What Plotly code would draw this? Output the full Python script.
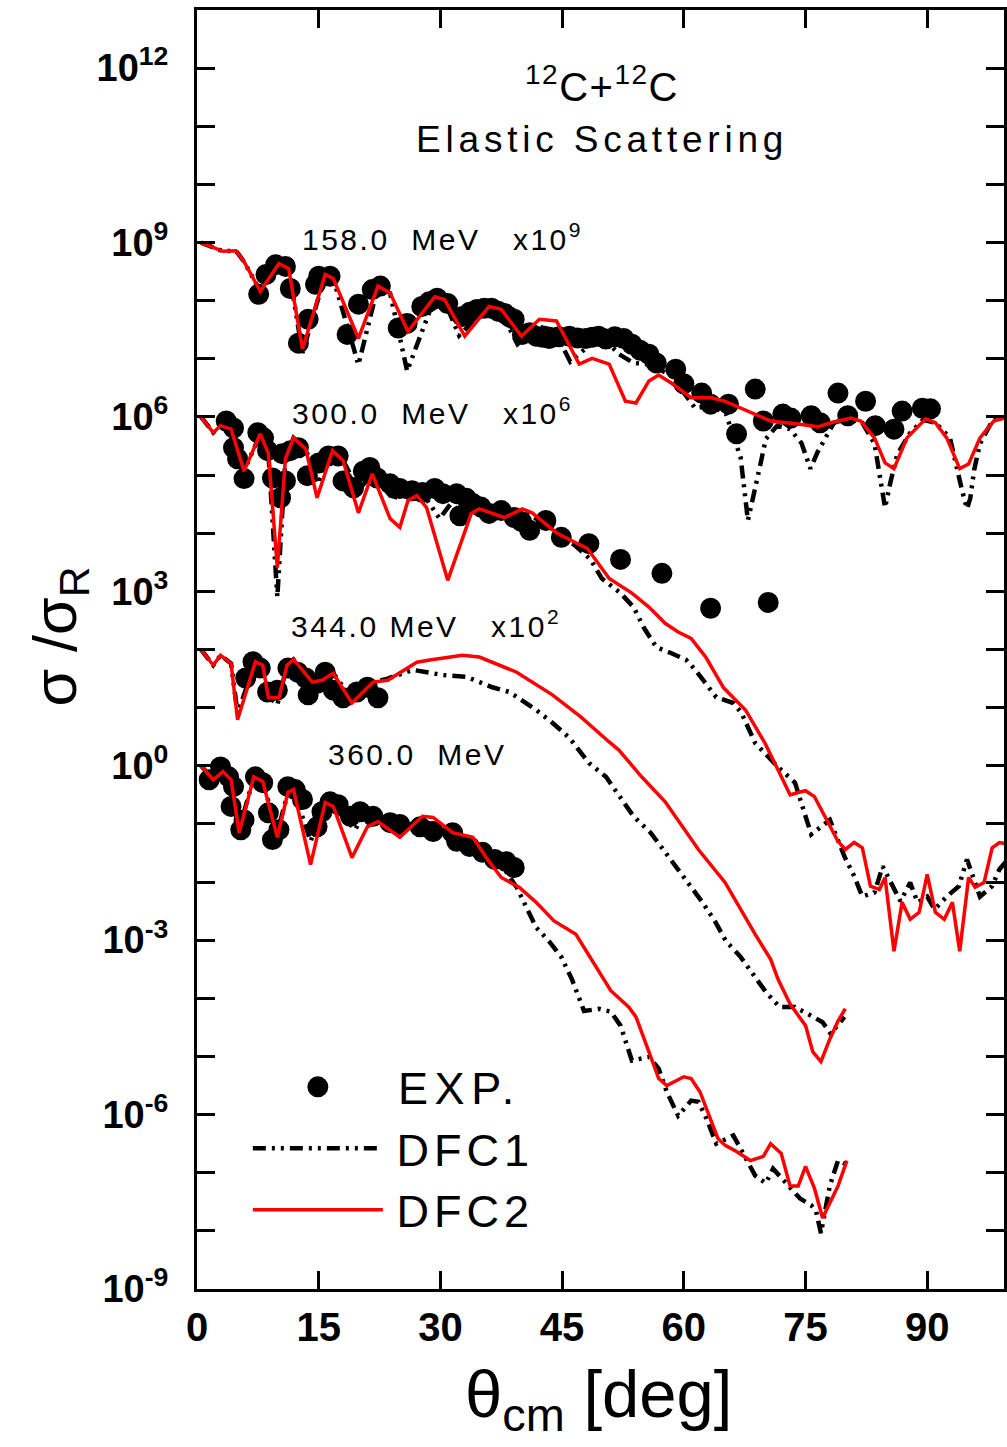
import numpy as np
import plotly.graph_objects as go

# ---------------- data (sigma/sigma_R, unscaled) ----------------
scale_158, scale_300, scale_344, scale_360 = 1e9, 1e6, 1e2, 1.0

theta_exp_158 = [7.6, 8.5, 9.7, 10.9, 11.5, 12.5, 13.7, 14.6, 15.0, 16.4, 18.5, 19.9, 21.6, 22.6, 24.8, 25.9,
                 27.7, 28.6, 29.6, 30.9, 32.7, 33.6, 34.5, 35.4, 36.3, 37.1, 37.9, 38.5, 39.1, 40.1, 41.0, 41.8,
                 42.6, 43.4, 44.6, 45.9, 46.9, 47.9, 48.7, 49.5, 50.4, 51.5, 52.6, 53.6, 54.6, 55.7, 56.6, 59.0,
                 60.0, 62.2, 63.3, 65.5, 66.5, 68.8, 69.8, 72.2, 73.2, 75.7, 76.8, 79.0, 80.2, 82.4, 83.6, 85.9,
                 86.9, 89.4, 90.4]
sig_exp_158 = [0.129, 0.282, 0.417, 0.389, 0.162, 0.0186, 0.0479, 0.191, 0.263, 0.263, 0.0263, 0.0871, 0.155,
               0.178, 0.0339, 0.0407, 0.0794, 0.0955, 0.110, 0.0891, 0.0537, 0.0631, 0.0708, 0.0741, 0.0741,
               0.0661, 0.0603, 0.0525, 0.0479, 0.0263, 0.0282, 0.0245, 0.0234, 0.0224, 0.0240, 0.0245, 0.0229,
               0.0224, 0.0234, 0.0245, 0.0219, 0.0240, 0.0224, 0.0178, 0.0141, 0.0120, 0.00851, 0.00661,
               0.00372, 0.00257, 0.00166, 0.00166, 0.000513, 0.00302, 0.000851, 0.00112, 0.000955, 0.00105,
               0.000794, 0.00257, 0.00105, 0.00186, 0.000708, 0.000617, 0.00126, 0.00141, 0.00138]

theta_dfc2_158 = [0.5, 3.2, 4.8, 5.8, 7.8, 10.1, 11.3, 13.0, 15.8, 16.8, 19.9, 22.3, 23.8, 26.0, 29.3, 30.5,
                  33.0, 36.0, 37.5, 40.0, 42.2, 44.3, 47.1, 48.7, 50.8, 52.8, 54.1, 55.7, 56.9, 58.5, 60.9,
                  63.4, 65.1, 68.8, 70.7, 74.1, 76.5, 78.1, 80.6, 81.8, 83.5, 84.8, 85.9, 87.5, 89.8, 91.0,
                  92.4, 94.0, 95.1, 96.5, 98.2, 100.0]
sig_dfc2_158 = [1.0, 0.708, 0.724, 0.468, 0.145, 0.437, 0.355, 0.0148, 0.282, 0.240, 0.0224, 0.178, 0.135,
                0.0295, 0.117, 0.105, 0.0245, 0.0794, 0.0708, 0.0245, 0.0479, 0.0447, 0.00813, 0.0102,
                0.00813, 0.00186, 0.00174, 0.00417, 0.00525, 0.00380, 0.00214, 0.00214, 0.00186, 0.00112,
                0.000851, 0.000759, 0.000676, 0.000794, 0.000955, 0.000851, 0.000437, 0.000162, 0.000129,
                0.000437, 0.000933, 0.000794, 0.000437, 0.000129, 0.000155, 0.000437, 0.000851, 0.001]

theta_dfc1_158 = [0.5, 3.2, 4.8, 5.8, 7.8, 10.1, 11.3, 13.0, 15.8, 16.8, 19.9, 22.3, 23.8, 25.9, 29.3, 30.5,
                  32.3, 35.5, 37.5, 39.5, 42.0, 44.0, 46.0, 48.5, 50.5, 52.0, 53.8, 56.0, 58.5, 61.4, 63.5,
                  65.2, 67.0, 67.9, 69.4, 70.1, 71.5, 73.1, 74.5, 75.6, 76.5, 77.4, 78.5, 80.5, 82.0, 83.5,
                  84.2, 84.8, 85.5, 86.3, 87.8, 89.5, 91.0, 92.8, 94.3, 94.9, 95.3, 95.8, 96.5, 98.2, 100.0]
sig_dfc1_158 = [1.0, 0.708, 0.724, 0.468, 0.145, 0.437, 0.355, 0.0126, 0.282, 0.240, 0.00794, 0.178, 0.135,
                0.00617, 0.112, 0.100, 0.0251, 0.0708, 0.0631, 0.0178, 0.0355, 0.0316, 0.00891, 0.0178,
                0.0200, 0.0120, 0.00851, 0.00794, 0.00501, 0.00141, 0.00158, 0.00112, 0.000200, 1.66e-5,
                1.45e-4, 4.17e-4, 7.08e-4, 6.17e-4, 3.55e-4, 1.29e-4, 2.51e-4, 4.37e-4, 7.94e-4, 9.55e-4,
                7.94e-4, 3.47e-4, 7.94e-5, 2.75e-5, 7.94e-5, 2.24e-4, 5.13e-4, 8.91e-4, 7.94e-4, 4.37e-4,
                5.37e-5, 2.63e-5, 3.98e-5, 1.26e-4, 3.47e-4, 9.55e-4, 1.0e-3]

theta_exp_300 = [3.6, 4.5, 4.5, 5.0, 5.8, 7.5, 8.2, 8.7, 9.3, 10.3, 10.5, 10.9, 11.5, 12.5, 13.6, 15.0, 16.2,
                 17.4, 18.0, 19.3, 20.5, 21.3, 22.2, 23.8, 25.0, 26.5, 27.8, 29.3, 30.3, 32.0, 32.4, 33.2,
                 34.0, 35.0, 36.0, 37.5, 39.1, 40.0, 41.0, 43.0, 44.9, 48.3, 52.2, 57.3, 63.3, 70.4]
sig_exp_300 = [0.851, 0.646, 0.295, 0.191, 0.0871, 0.537, 0.437, 0.263, 0.0891, 0.0407, 0.234, 0.0794,
               0.263, 0.295, 0.0977, 0.162, 0.214, 0.214, 0.0794, 0.0603, 0.117, 0.135, 0.0891, 0.0708,
               0.0589, 0.0537, 0.0501, 0.0589, 0.0479, 0.0479, 0.0200, 0.0398, 0.0324, 0.0282, 0.0219,
               0.0245, 0.0186, 0.0158, 0.0112, 0.0166, 0.00851, 0.00661, 0.00355, 0.00204, 0.000513, 0.000646]

theta_dfc2_300 = [0.5, 2.0, 2.9, 4.2, 5.8, 7.8, 8.8, 9.9, 10.9, 11.9, 13.4, 14.8, 16.7, 18.0, 19.9, 21.6,
                  23.8, 25.0, 26.0, 27.1, 28.3, 30.9, 33.8, 34.8, 37.9, 40.1, 41.3, 44.3, 46.2, 48.1, 50.8,
                  53.6, 55.7, 57.7, 59.3, 60.9, 62.7, 64.9, 67.6, 70.0, 71.6, 73.1, 74.1, 75.0, 76.1, 77.4,
                  79.0, 79.9, 81.0, 82.0, 83.0, 84.1, 84.8, 85.9, 86.9, 87.9, 89.0, 90.0, 91.0, 92.1, 93.1,
                  94.0, 95.1, 95.9, 97.0, 98.0, 98.9, 100.0]
sig_dfc2_300 = [1.0, 0.537, 0.708, 0.617, 0.117, 0.513, 0.234, 0.00257, 0.191, 0.437, 0.282, 0.0407, 0.263,
                0.178, 0.0224, 0.105, 0.0178, 0.0126, 0.0363, 0.0447, 0.0275, 0.00155, 0.0219, 0.0263,
                0.0186, 0.0263, 0.0224, 0.0102, 0.00741, 0.00550, 0.00166, 0.000933, 0.000537, 0.000282,
                0.000200, 0.000155, 7.41e-5, 2.19e-5, 9.12e-6, 2.45e-6, 8.51e-7, 3.16e-7, 3.47e-7, 3.72e-7,
                2.95e-7, 1.35e-7, 5.01e-8, 3.63e-8, 4.79e-8, 3.89e-8, 8.51e-9, 7.41e-9, 1.20e-8, 6.46e-10,
                4.47e-9, 2.29e-9, 3.02e-9, 1.35e-8, 3.02e-9, 2.29e-9, 4.47e-9, 6.46e-10, 1.20e-8, 8.13e-9,
                9.77e-9, 3.89e-8, 4.79e-8, 4.47e-8]

theta_dfc1_300 = [0.5, 2.0, 2.9, 4.2, 5.8, 7.8, 8.8, 9.9, 10.9, 11.9, 13.4, 14.8, 16.7, 18.0, 19.9, 21.6,
                  23.8, 25.0, 26.5, 28.0, 29.9, 31.5, 34.0, 36.5, 38.5, 40.5, 42.5, 44.5, 46.5, 48.5, 49.9,
                  52.2, 53.8, 55.1, 56.6, 58.4, 60.3, 61.4, 62.7, 64.0, 66.1, 67.1, 68.8, 71.6, 73.7, 74.9,
                  75.7, 76.8, 78.0, 79.8, 81.0, 82.0, 83.5, 84.5, 85.9, 86.7, 87.9, 88.8, 90.0, 90.9, 92.4,
                  93.9, 94.9, 95.8, 96.5, 98.0, 98.9, 100.0]
sig_dfc1_300 = [1.0, 0.537, 0.708, 0.617, 0.117, 0.513, 0.234, 7.94e-4, 0.191, 0.437, 0.282, 0.0708, 0.251,
                0.178, 0.0562, 0.100, 0.0447, 0.0398, 0.0501, 0.0447, 0.0178, 0.0355, 0.0316, 0.0224,
                0.0224, 0.0224, 0.0158, 0.0100, 0.00631, 0.00355, 0.00166, 0.000933, 0.000537, 0.000234,
                0.000110, 8.71e-5, 6.61e-5, 4.47e-5, 2.63e-5, 1.51e-5, 1.20e-5, 8.13e-6, 2.45e-6, 9.55e-7,
                5.13e-7, 1.55e-7, 6.61e-8, 8.71e-8, 1.17e-7, 2.75e-8, 1.26e-8, 5.62e-9, 6.61e-9, 1.86e-8,
                7.41e-9, 4.68e-9, 9.77e-9, 4.47e-9, 5.62e-9, 3.39e-9, 5.62e-9, 8.51e-9, 2.45e-8, 1.12e-8,
                5.62e-9, 8.51e-9, 1.66e-8, 2.51e-8]

theta_exp_344 = [6.0, 6.9, 7.8, 8.7, 9.9, 11.2, 12.4, 13.4, 13.7, 14.8, 15.8, 16.8, 18.0, 19.7, 21.0, 22.3]
sig_exp_344 = [0.324, 0.617, 0.479, 0.186, 0.200, 0.479, 0.407, 0.324, 0.166, 0.263, 0.407, 0.200, 0.148,
               0.186, 0.224, 0.148]

theta_dfc2_344 = [0.5, 2.0, 2.9, 4.2, 5.0, 7.2, 8.1, 8.8, 10.1, 11.1, 11.9, 14.2, 15.4, 16.8, 19.1, 21.7,
                  23.5, 27.1, 28.7, 32.7, 34.8, 39.4, 43.8, 47.3, 50.8, 52.0, 54.8, 57.7, 61.8, 65.1, 68.8,
                  70.7, 71.6, 73.1, 75.0, 75.9, 76.9, 78.0, 79.0, 79.9]
sig_dfc2_344 = [1.0, 0.537, 0.794, 0.575, 0.0617, 0.617, 0.537, 0.148, 0.148, 0.537, 0.676, 0.275, 0.295,
                0.389, 0.120, 0.275, 0.295, 0.603, 0.661, 0.794, 0.741, 0.407, 0.166, 0.0692, 0.0257,
                0.0186, 0.00646, 0.00240, 0.000363, 9.77e-5, 1.26e-5, 4.68e-6, 2.14e-6, 7.94e-7, 3.39e-7,
                1.20e-7, 8.13e-8, 2.00e-7, 4.07e-7, 6.61e-7]

theta_dfc1_344 = [0.5, 2.0, 2.9, 4.2, 5.0, 7.2, 8.1, 8.8, 9.9, 11.1, 11.9, 14.2, 15.4, 16.8, 19.1, 21.7,
                  23.5, 26.6, 30.3, 33.2, 36.4, 38.5, 41.8, 43.8, 45.9, 48.3, 50.4, 51.7, 53.8, 55.9, 57.3,
                  59.0, 60.8, 62.2, 63.9, 65.2, 66.9, 68.3, 70.1, 71.8, 73.7, 75.3, 77.1, 78.1, 79.8]
sig_dfc1_344 = [1.0, 0.537, 0.794, 0.575, 0.0794, 0.617, 0.537, 0.158, 0.112, 0.537, 0.676, 0.282, 0.316,
                0.389, 0.141, 0.275, 0.316, 0.447, 0.363, 0.339, 0.224, 0.186, 0.0912, 0.0550, 0.0302,
                0.0112, 0.00646, 0.00347, 0.00135, 0.000708, 0.000389, 0.000186, 8.13e-5, 4.68e-5, 2.04e-5,
                9.55e-6, 5.37e-6, 2.82e-6, 1.29e-6, 7.08e-7, 7.08e-7, 5.37e-7, 3.89e-7, 2.45e-7, 4.79e-7]

theta_exp_360 = [1.5, 2.9, 3.9, 4.2, 4.5, 5.4, 5.8, 7.2, 8.1, 8.8, 9.3, 10.1, 11.2, 12.1, 13.0, 14.8, 15.4,
                 16.4, 17.4, 18.9, 20.1, 21.7, 23.8, 25.0, 27.5, 29.1, 31.5, 32.0, 33.6, 35.2, 36.7, 38.1, 39.1]
sig_exp_360 = [0.575, 0.955, 0.646, 0.200, 0.437, 0.0794, 0.117, 0.646, 0.513, 0.155, 0.0537, 0.0794, 0.437,
               0.389, 0.263, 0.0891, 0.162, 0.240, 0.214, 0.135, 0.162, 0.135, 0.105, 0.0977, 0.0891,
               0.0741, 0.0708, 0.0501, 0.0407, 0.0324, 0.0245, 0.0224, 0.0178]

theta_dfc2_360 = [0.5, 2.0, 3.2, 4.2, 5.2, 7.0, 8.1, 9.9, 11.2, 11.9, 14.0, 15.8, 16.8, 19.1, 21.0, 22.3,
                  25.0, 27.8, 29.1, 31.5, 34.0, 35.8, 37.5, 39.7, 41.8, 44.0, 46.7, 49.3, 51.0, 53.2, 54.1,
                  55.7, 56.9, 57.9, 59.0, 60.0, 60.9, 62.0, 63.4, 64.2, 65.1, 66.3, 68.2, 69.8, 70.7, 72.0,
                  73.1, 74.1, 75.0, 76.1, 77.1, 79.0, 80.1]
sig_dfc2_360 = [1.0, 0.575, 0.794, 0.575, 0.0708, 0.646, 0.537, 0.0589, 0.347, 0.389, 0.0200, 0.234, 0.200,
                0.0263, 0.0891, 0.110, 0.0589, 0.135, 0.129, 0.0708, 0.0589, 0.0245, 0.0120, 0.00813,
                0.00447, 0.00214, 0.00126, 0.000316, 0.000135, 7.08e-5, 4.79e-5, 1.20e-5, 4.17e-6, 3.16e-6,
                3.72e-6, 4.47e-6, 4.17e-6, 2.45e-6, 7.59e-7, 3.89e-7, 2.95e-7, 2.40e-7, 1.62e-7, 1.91e-7,
                3.16e-7, 2.14e-7, 5.89e-8, 5.89e-8, 1.29e-7, 5.37e-8, 1.66e-8, 5.89e-8, 1.62e-7]

theta_dfc1_360 = [0.5, 2.0, 3.2, 4.2, 5.2, 7.0, 8.1, 9.9, 11.2, 11.9, 14.0, 15.8, 16.8, 19.5, 21.0, 22.3,
                  25.0, 27.8, 30.0, 32.5, 35.0, 37.5, 39.4, 40.1, 41.8, 43.4, 44.9, 46.2, 47.7, 49.5, 51.0,
                  52.2, 53.6, 55.7, 56.9, 57.9, 59.3, 60.9, 61.8, 62.8, 64.0, 66.1, 67.1, 68.8, 70.1, 71.0,
                  73.2, 74.3, 75.7, 76.3, 76.9, 78.0, 79.0, 79.8]
sig_dfc1_360 = [1.0, 0.575, 0.794, 0.575, 0.0794, 0.646, 0.537, 0.0708, 0.347, 0.389, 0.0501, 0.234, 0.200,
                0.0794, 0.200, 0.141, 0.0891, 0.112, 0.0891, 0.0631, 0.0355, 0.0200, 0.00813, 0.00501,
                0.00166, 0.000955, 0.000513, 0.000214, 6.03e-5, 6.61e-5, 5.89e-5, 3.39e-5, 8.51e-6, 9.77e-6,
                6.17e-6, 2.45e-6, 9.55e-7, 1.74e-6, 1.66e-6, 8.51e-7, 3.16e-7, 4.37e-7, 2.34e-7, 8.91e-8,
                6.61e-8, 1.17e-7, 5.37e-8, 3.63e-8, 2.75e-8, 2.19e-8, 9.12e-9, 6.03e-8, 1.62e-7, 1.45e-7]

x_ticks = [0, 15, 30, 45, 60, 75, 90]
y_label_decades = [-9, -6, -3, 0, 3, 6, 9, 12]
y_minor_decades = [-8, -7, -5, -4, -2, -1, 1, 2, 4, 5, 7, 8, 10, 11]

# ---------------- figure ----------------
FONT = "Liberation Sans, Arial, Helvetica, sans-serif"
RED = "#ff0000"

datasets = [
    (scale_158, theta_exp_158, sig_exp_158, theta_dfc1_158, sig_dfc1_158, theta_dfc2_158, sig_dfc2_158),
    (scale_300, theta_exp_300, sig_exp_300, theta_dfc1_300, sig_dfc1_300, theta_dfc2_300, sig_dfc2_300),
    (scale_344, theta_exp_344, sig_exp_344, theta_dfc1_344, sig_dfc1_344, theta_dfc2_344, sig_dfc2_344),
    (scale_360, theta_exp_360, sig_exp_360, theta_dfc1_360, sig_dfc1_360, theta_dfc2_360, sig_dfc2_360),
]

def ls(t, px):
    return f"<span style='letter-spacing:{px}px'>{t}</span>"

fig = go.Figure()
for i, (sc, tx, sx, t1, s1, t2, s2) in enumerate(datasets):
    fig.add_trace(go.Scatter(
        x=t1, y=np.array(s1) * sc, mode="lines", name=ls("\u200aDFC1", 5), legendgroup="dfc1",
        showlegend=(i == 0), legendrank=2,
        line=dict(color="black", width=4.5, dash="13px,6px,3px,6px,3px,6px")))
for i, (sc, tx, sx, t1, s1, t2, s2) in enumerate(datasets):
    fig.add_trace(go.Scatter(
        x=tx, y=np.array(sx) * sc, mode="markers", name=ls("\u200aEXP.", 6.5), legendgroup="exp",
        showlegend=(i == 0), legendrank=1,
        marker=dict(color="black", size=16, symbol="circle", line=dict(color="black", width=5))))
for i, (sc, tx, sx, t1, s1, t2, s2) in enumerate(datasets):
    fig.add_trace(go.Scatter(
        x=t2, y=np.array(s2) * sc, mode="lines", name=ls("\u200aDFC2", 5), legendgroup="dfc2",
        showlegend=(i == 0), legendrank=3,
        line=dict(color=RED, width=3.5)))

fig.update_layout(
    width=1007, height=1447,
    margin=dict(l=197, r=0, t=10, b=158, pad=0),
    paper_bgcolor="white", plot_bgcolor="white",
    font=dict(family=FONT, color="black"),
    showlegend=True,
    legend=dict(
        x=0.063, y=0.186, xanchor="left", yanchor="top",
        bgcolor="rgba(0,0,0,0)", borderwidth=0,
        font=dict(family=FONT, size=45, color="black"),
        itemwidth=130, tracegroupgap=0, traceorder="normal",
    ),
    xaxis=dict(
        range=[0, 99.46], showgrid=False, zeroline=False,
        showline=True, linewidth=3, linecolor="black", mirror="ticks",
        ticks="inside", ticklen=18, tickwidth=3, tickcolor="black",
        tickvals=x_ticks, ticktext=[str(v) for v in x_ticks],
        tickfont=dict(family=FONT, size=40, weight="bold", color="black"),
        ticklabelstandoff=1,
    ),
    yaxis=dict(
        type="log", range=[-9, 13], showgrid=False, zeroline=False,
        showline=True, linewidth=3, linecolor="black", mirror="ticks",
        ticks="inside", ticklen=18, tickwidth=3, tickcolor="black",
        tickvals=[10.0 ** d for d in y_label_decades],
        ticktext=[f"10<sup>{d}</sup>" for d in y_label_decades],
        tickfont=dict(family=FONT, size=38, weight="bold", color="black"),
        ticklabelstandoff=18,
        minor=dict(tickvals=[10.0 ** d for d in y_minor_decades], ticks="inside",
                   ticklen=18, tickwidth=3, tickcolor="black", showgrid=False),
    ),
)

annos = [
    dict(x=49.9, y=11.72, text="<sup>12</sup>C+<sup>12</sup>C", size=40, xanchor="center", sp=1.5),
    dict(x=49.9, y=10.77, text="Elastic Scattering", size=37, xanchor="center", sp=4.8),
    dict(x=12.75, y=9.1, text="158.0\u00a0\u00a0MeV\u00a0\u00a0\u00a0x10<sup>9</sup>", size=30, xanchor="left", sp=2.5),
    dict(x=11.5, y=6.1, text="300.0\u00a0\u00a0MeV\u00a0\u00a0\u00a0x10<sup>6</sup>", size=30, xanchor="left", sp=2.5),
    dict(x=11.3, y=2.44, text="344.0\u00a0MeV\u00a0\u00a0\u00a0x10<sup>2</sup>", size=30, xanchor="left", sp=2.5),
    dict(x=15.9, y=0.19, text="360.0\u00a0\u00a0MeV", size=30, xanchor="left", sp=2.5),
]
for a in annos:
    fig.add_annotation(x=a["x"], y=a["y"], xref="x", yref="y", text=ls(a["text"], a["sp"]),
                       showarrow=False, xanchor=a["xanchor"], yanchor="middle",
                       font=dict(family=FONT, size=a["size"], color="black"))

# axis titles
fig.add_annotation(x=0.497, y=-0.086, xref="paper", yref="paper", text="θ<sub>cm</sub> [deg]",
                   showarrow=False, xanchor="center", yanchor="middle",
                   font=dict(family=FONT, size=67, color="black"))
fig.add_annotation(x=-0.17, y=0.51, xref="paper", yref="paper",
                   text="σ\u00a0/σ<sub>R</sub>",
                   showarrow=False, xanchor="center", yanchor="middle", textangle=-90,
                   font=dict(family=FONT, size=61, color="black"))

fig.write_html("out.html")
